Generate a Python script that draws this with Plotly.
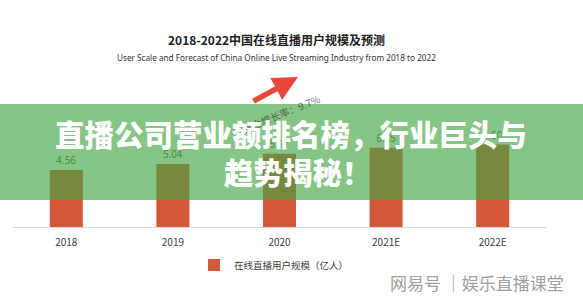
import plotly.graph_objects as go

# ---- data ----
years = ["2018", "2019", "2020", "2021E", "2022E"]
users = [4.56, 5.04, 5.87, 6.35, 6.60]
value_labels = ["4.56", "5.04", "5.87", "6.35", "6.60"]
series_name = "在线直播用户规模（亿人）"
title_cn = "2018-2022中国在线直播用户规模及预测"
title_en = "User Scale and Forecast of China Online Live Streaming Industry from 2018 to 2022"
growth_text = "年复合增长率：9.7%"
banner_line1 = "直播公司营业额排名榜，行业巨头与"
banner_line2 = "趋势揭秘！"
watermark = "网易号 │娱乐直播课堂"

W, H = 583, 304
L, R, T, B = 13, 546, 127, 227  # plot area in pixels


def px(x):
    return (x - L) / (R - L)


def py(y):
    return (B - y) / (B - T)


CJK = "Noto Sans CJK SC"

fig = go.Figure()
fig.add_trace(go.Bar(
    x=years, y=users, name=series_name,
    marker=dict(color="#d4583b", line=dict(width=0)),
    width=0.31,
    text=value_labels, textposition="outside",
    textfont=dict(family=CJK, size=10, color="#595959"),
    cliponaxis=False,
))

annotations = [
    dict(text=f"<b>{title_cn}</b>", x=px(276), y=py(40), xref="paper", yref="paper",
         showarrow=False, xanchor="center", yanchor="middle",
         font=dict(family=CJK, size=12, color="#222222")),
    dict(text=title_en, x=px(276), y=py(57), xref="paper", yref="paper",
         showarrow=False, xanchor="center", yanchor="middle",
         font=dict(family="Noto Sans", size=8.2, color="#333333")),
    # growth arrow
    dict(text="", x=px(298), y=py(77), xref="paper", yref="paper",
         ax=-46, ay=25, showarrow=True, arrowhead=2, arrowsize=0.9,
         arrowwidth=5.5, arrowcolor="#e8473b"),
    dict(text=growth_text, x=px(276), y=py(116), xref="paper", yref="paper",
         showarrow=False, textangle=-22, xanchor="center", yanchor="middle",
         font=dict(family=CJK, size=10, color="rgba(50,70,50,0.75)")),
    # banner text
    dict(text=banner_line1, x=px(291), y=py(133), xref="paper", yref="paper",
         showarrow=False, xanchor="center", yanchor="middle",
         font=dict(family=CJK, size=29.5, color="#ffffff", weight=900)),
    dict(text=banner_line2, x=px(298), y=py(171), xref="paper", yref="paper",
         showarrow=False, xanchor="center", yanchor="middle",
         font=dict(family=CJK, size=29.5, color="#ffffff", weight=900)),
    dict(text=watermark, x=px(566), y=py(282), xref="paper", yref="paper",
         showarrow=False, xanchor="right", yanchor="middle",
         font=dict(family=CJK, size=17, color="#a0a0a0")),
]

shapes = [
    dict(type="rect", xref="paper", yref="paper",
         x0=px(0), x1=px(W), y0=py(200), y1=py(104),
         fillcolor="rgba(66,164,66,0.64)", line=dict(width=0), layer="above"),
]

fig.update_layout(
    width=W, height=H,
    margin=dict(l=L, r=W - R, t=T, b=H - B, pad=0),
    paper_bgcolor="white", plot_bgcolor="white",
    showlegend=True,
    legend=dict(orientation="h", x=px(274), y=py(265), xanchor="center", yanchor="middle",
                font=dict(family=CJK, size=9.5, color="#404040"),
                itemwidth=30, bgcolor="rgba(0,0,0,0)"),
    xaxis=dict(type="category", range=[-0.5, 4.5], showline=True, linecolor="#d9d9d9",
               linewidth=1, showgrid=False, zeroline=False,
               ticks="outside", ticklen=6, tickcolor="rgba(0,0,0,0)",
               tickfont=dict(family=CJK, size=10, color="#404040")),
    yaxis=dict(range=[0, 8], visible=False, showgrid=False, zeroline=False),
    annotations=annotations,
    shapes=shapes,
    bargap=0.69,
)

fig.write_html("out.html")
